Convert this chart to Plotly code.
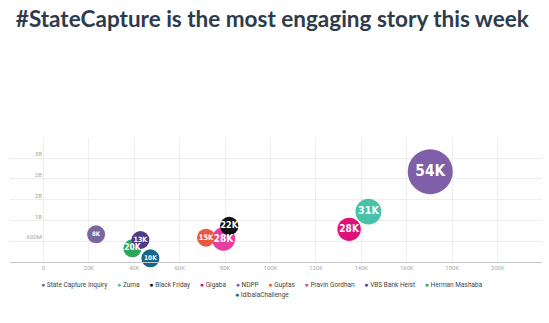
import plotly.graph_objects as go

# ---- data ----
topics = ["State Capture Inquiry", "Zuma", "Black Friday", "Gigaba", "NDPP",
          "Guptas", "Pravin Gordhan", "VBS Bank Heist", "Herman Mashaba", "IdibalaChallenge"]
x_vals = [170300, 143100, 81800, 134600, 23200, 71600, 79300, 42700, 39200, 47100]
y_vals = [2.605e9, 1.451e9, 1.038e9, 0.943e9, 0.799e9, 0.701e9, 0.663e9, 0.635e9, 0.395e9, 0.107e9]
engagement = [54000, 31000, 22000, 28000, 8000, 15000, 28000, 13000, 20000, 10000]
colors = ["#7E5FA8", "#48C2A9", "#111111", "#E0127A", "#7D65A0",
          "#E65A3F", "#E83C9F", "#4E3B86", "#2BA65A", "#14668A"]

x_tickvals = [0, 20000, 40000, 60000, 80000, 100000, 120000, 140000, 160000, 180000, 200000]
x_ticktext = ["0", "20K", "40K", "60K", "80K", "100K", "120K", "140K", "160K", "180K", "200K"]
y_tickvals = [0.6e9, 1.2e9, 1.8e9, 2.4e9, 3.0e9]
y_ticktext = ["600M", "1B", "2B", "2B", "3B"]

title_text = "#StateCapture is the most engaging story this week"

W, H = 549, 323
ML, MR, MT, MB = 10, 7, 138, 61

fig = go.Figure()

# bubbles: larger first so smaller ones sit on top
order = sorted(range(len(topics)), key=lambda i: -engagement[i])
for i in order:
    fig.add_trace(go.Scatter(
        x=[x_vals[i]], y=[y_vals[i]],
        mode="markers",
        name=topics[i],
        marker=dict(size=[engagement[i]], sizemode="diameter", sizeref=1200, sizemin=9,
                    color=colors[i], line=dict(width=0), opacity=1),
        cliponaxis=False,
        showlegend=False,
        hovertemplate=f"{topics[i]}: {engagement[i] // 1000}K<extra></extra>",
    ))

# data labels drawn above all bubbles
fig.add_trace(go.Scatter(
    x=[x_vals[i] for i in order], y=[y_vals[i] for i in order],
    mode="text",
    text=[f"{engagement[i] // 1000}K" for i in order],
    textposition="middle center",
    textfont=dict(family="DejaVu Sans Condensed, Liberation Sans Narrow, Arial Narrow, sans-serif",
                  size=[4.5 + 0.2 * engagement[i] / 1000 for i in order],
                  color="white", weight="bold"),
    cliponaxis=False, showlegend=False, hoverinfo="skip",
))

fig.update_layout(
    width=W, height=H,
    margin=dict(l=ML, r=MR, t=MT, b=MB),
    paper_bgcolor="white", plot_bgcolor="white",
    title=dict(text=f"<b>{title_text}</b>", x=0.496, xref="container", xanchor="center",
               y=1 - 19 / H, yref="container", yanchor="middle",
               font=dict(family="Lato, Open Sans, sans-serif", size=22.5, color="#2E3B4C")),
    font=dict(family="Roboto, sans-serif"),
    showlegend=False,
    xaxis=dict(range=[-14700, 219500], tickvals=x_tickvals, ticktext=x_ticktext,
               showgrid=True, gridcolor="#EEEEEE", gridwidth=1, zeroline=False,
               showline=True, linecolor="#C8C8C8", linewidth=1,
               tickfont=dict(size=6, color="#A8A8A8"), ticks=""),
    yaxis=dict(range=[0, 3.577e9], tickvals=y_tickvals, ticktext=y_ticktext,
               anchor="free", position=0.060,
               showgrid=True, gridcolor="#EEEEEE", gridwidth=1, zeroline=False,
               showline=False, ticks="", ticklabelshift=-4,
               tickfont=dict(size=6, color="#A8A8A8")),
)

# legend rows, rendered as real text
def item(i):
    return f"<span style='color:{colors[i]};font-size:7px'>●</span>&nbsp;{topics[i]}"

sep = "&nbsp;" * 6
row1 = sep.join(item(i) for i in range(9))
row2 = item(9)
ph = H - MT - MB
pw = W - ML - MR
for txt, py in [(row1, 285), (row2, 295)]:
    fig.add_annotation(text=txt, xref="paper", yref="paper",
                       x=(262 - ML) / pw, y=-(py - (H - MB)) / ph,
                       xanchor="center", yanchor="middle", showarrow=False,
                       font=dict(family="Roboto, sans-serif", size=6.5, color="#444444"))

fig.write_html("out.html")
